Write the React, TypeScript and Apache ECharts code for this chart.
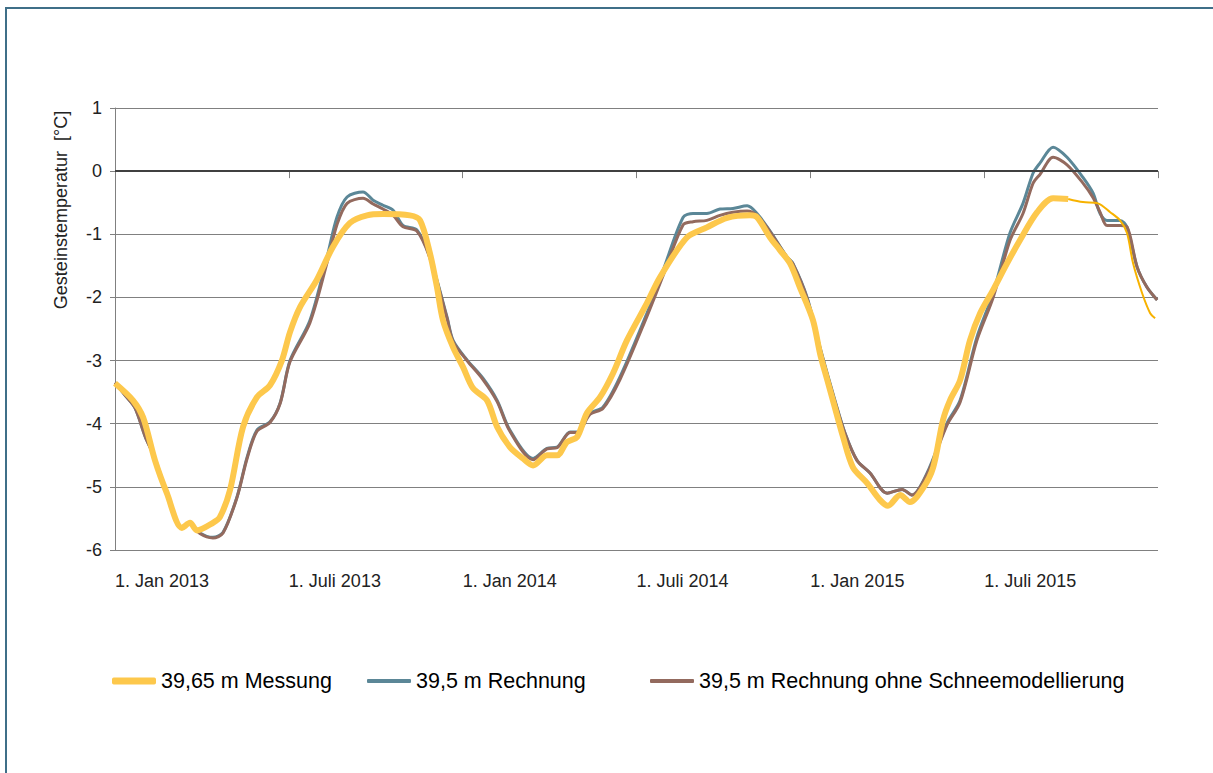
import React, { useEffect, useRef } from "react";
import * as echarts from "echarts";

// x = months since 1. Jan 2013
const tickLabels = ["1. Jan 2013", "1. Juli 2013", "1. Jan 2014", "1. Juli 2014", "1. Jan 2015", "1. Juli 2015", ""];
const seriesNames = ["39,65 m Messung", "39,5 m Rechnung", "39,5 m Rechnung ohne Schneemodellierung"];

const messung: number[][] = [
  [0, -3.36], [0.62, -3.63], [0.97, -3.9], [1.38, -4.58], [1.79, -5.1], [2.31, -5.65], [2.59, -5.57], [2.83, -5.69],
  [3.38, -5.57], [3.62, -5.48], [3.97, -5.05], [4.42, -4.05], [4.9, -3.58], [5.35, -3.39], [5.76, -3.0], [6.04, -2.55],
  [6.39, -2.15], [6.97, -1.72], [7.52, -1.2], [8.11, -0.82], [8.7, -0.7], [9.25, -0.68], [10.18, -0.7], [10.53, -0.78],
  [10.87, -1.3], [11.11, -1.83], [11.32, -2.36], [11.67, -2.79], [12.01, -3.1], [12.36, -3.44], [12.84, -3.63],
  [13.19, -4.05], [13.63, -4.37], [14.08, -4.55], [14.43, -4.66], [14.91, -4.5], [15.26, -4.5], [15.6, -4.29],
  [15.95, -4.21], [16.29, -3.83], [16.74, -3.58], [17.19, -3.2], [17.67, -2.68], [18.36, -2.09], [18.81, -1.68],
  [19.74, -1.05], [20.43, -0.89], [21.13, -0.74], [21.92, -0.7], [22.16, -0.73], [22.61, -1.05], [22.95, -1.25],
  [23.3, -1.46], [23.64, -1.84], [24.09, -2.36], [24.34, -2.9], [24.58, -3.3], [24.78, -3.63], [25.13, -4.21],
  [25.47, -4.69], [25.96, -4.94], [26.41, -5.21], [26.68, -5.3], [27.1, -5.13], [27.44, -5.24], [27.89, -5.02],
  [28.24, -4.69], [28.58, -3.94], [28.82, -3.63], [29.17, -3.31], [29.51, -2.68], [29.86, -2.25], [30.31, -1.88],
  [30.79, -1.46], [31.24, -1.09], [31.83, -0.65], [32.38, -0.43], [32.9, -0.44],
];

const messungEnde: number[][] = [
  [32.9, -0.44], [33.41, -0.49], [33.93, -0.51], [34.35, -0.65], [34.69, -0.78], [34.93, -0.98], [35.14, -1.46],
  [35.45, -1.93], [35.73, -2.25], [35.9, -2.33],
];

const rechnung: number[][] = [
  [0, -3.35], [0.35, -3.55], [0.69, -3.75], [1.04, -4.2], [1.38, -4.55], [1.79, -5.1], [2.31, -5.65], [2.59, -5.58],
  [2.93, -5.73], [3.38, -5.8], [3.73, -5.72], [4.21, -5.16], [4.56, -4.53], [4.9, -4.1], [5.35, -3.97], [5.7, -3.67],
  [6.04, -3.0], [6.73, -2.36], [7.32, -1.36], [7.66, -0.73], [8.01, -0.41], [8.56, -0.33], [8.91, -0.46], [9.25, -0.54],
  [9.6, -0.62], [9.94, -0.86], [10.42, -0.93], [10.87, -1.36], [11.46, -2.31], [11.67, -2.68], [12.15, -2.99],
  [12.7, -3.28], [13.19, -3.63], [13.63, -4.1], [14.43, -4.55], [14.91, -4.39], [15.26, -4.37], [15.71, -4.13],
  [15.95, -4.13], [16.4, -3.83], [16.84, -3.74], [17.43, -3.26], [18.36, -2.25], [18.92, -1.57], [19.61, -0.73],
  [19.95, -0.67], [20.43, -0.67], [20.88, -0.6], [21.33, -0.59], [21.82, -0.55], [22.16, -0.67], [22.61, -0.95],
  [23.2, -1.36], [23.4, -1.46], [23.89, -2.0], [24.34, -2.8], [24.85, -3.63], [25.2, -4.15], [25.61, -4.58],
  [26.06, -4.78], [26.65, -5.1], [27.17, -5.04], [27.51, -5.13], [28.03, -4.78], [28.72, -3.99], [29.17, -3.63],
  [29.75, -2.63], [30.31, -1.93], [30.89, -0.98], [31.34, -0.51], [31.69, -0.03], [31.93, 0.13], [32.38, 0.38],
  [32.86, 0.22], [33.41, -0.1], [33.76, -0.35], [34.0, -0.67], [34.24, -0.78], [34.69, -0.78], [34.93, -0.89],
  [35.28, -1.52], [35.62, -1.84], [35.97, -2.04],
];

const ohneSchnee: number[][] = [
  [0, -3.35], [0.35, -3.55], [0.69, -3.75], [1.04, -4.2], [1.38, -4.55], [1.79, -5.1], [2.31, -5.65], [2.59, -5.58],
  [2.93, -5.74], [3.38, -5.81], [3.73, -5.73], [4.21, -5.17], [4.56, -4.55], [4.9, -4.12], [5.35, -3.98], [5.7, -3.68],
  [6.04, -3.02], [6.73, -2.4], [7.32, -1.45], [7.66, -0.85], [8.01, -0.51], [8.56, -0.43], [8.91, -0.52], [9.25, -0.6],
  [9.6, -0.7], [9.94, -0.88], [10.42, -0.95], [10.87, -1.38], [11.46, -2.33], [11.67, -2.7], [12.15, -3.0],
  [12.7, -3.3], [13.19, -3.65], [13.63, -4.12], [14.43, -4.57], [14.91, -4.4], [15.26, -4.38], [15.71, -4.14],
  [15.95, -4.14], [16.4, -3.85], [16.84, -3.76], [17.43, -3.3], [18.36, -2.3], [18.92, -1.65], [19.61, -0.85],
  [19.95, -0.8], [20.43, -0.78], [20.88, -0.7], [21.33, -0.65], [21.82, -0.63], [22.16, -0.7], [22.61, -0.96],
  [23.2, -1.37], [23.4, -1.47], [23.89, -2.02], [24.34, -2.82], [24.85, -3.65], [25.2, -4.16], [25.61, -4.58],
  [26.06, -4.78], [26.65, -5.1], [27.17, -5.04], [27.51, -5.13], [28.03, -4.8], [28.72, -4.02], [29.17, -3.66],
  [29.75, -2.68], [30.31, -2.0], [30.89, -1.1], [31.34, -0.67], [31.69, -0.19], [31.93, -0.05], [32.38, 0.22],
  [32.86, 0.1], [33.41, -0.19], [33.76, -0.42], [34.0, -0.65], [34.24, -0.86], [34.69, -0.86], [34.93, -0.88],
  [35.28, -1.52], [35.62, -1.84], [35.97, -2.04],
];

const yellow = "#FDC84C";
const blue = "#5B8797";
const brown = "#936A5E";
const thinYellow = "#F7B200";
const font = "Liberation Sans, Arial, sans-serif";

export default function App() {
  const ref = useRef<HTMLDivElement>(null);
  useEffect(() => {
    document.body.style.margin = "0";
    document.body.style.overflow = "hidden";
    const chart = echarts.init(ref.current!, null, { renderer: "svg" });
    const legendBase = {
      top: 665,
      itemWidth: 44,
      itemGap: 5,
      icon: "roundRect",
      textStyle: { fontSize: 21.5, color: "#000", fontFamily: font },
    };
    chart.setOption({
      animation: false,
      backgroundColor: "#fff",
      grid: { left: 115, right: 55, top: 108, bottom: 223, containLabel: false },
      xAxis: {
        type: "value",
        min: 0,
        max: 36,
        interval: 6,
        axisLine: { show: true, lineStyle: { color: "#808080", width: 1 } },
        axisTick: { show: true, length: 7, lineStyle: { color: "#808080" } },
        splitLine: { show: false },
        axisLabel: {
          margin: 22,
          align: "left",
          fontSize: 18,
          color: "#222",
          fontFamily: font,
          showMaxLabel: true,
          formatter: (v: number) => tickLabels[Math.round(v / 6)] ?? "",
        },
      },
      yAxis: {
        type: "value",
        min: -6,
        max: 1,
        interval: 1,
        axisLine: { show: true, lineStyle: { color: "#808080", width: 1 } },
        axisTick: { show: true, length: 5, lineStyle: { color: "#808080" } },
        splitLine: { show: true, lineStyle: { color: "#808080", width: 1 } },
        axisLabel: { margin: 13, fontSize: 18, color: "#222", fontFamily: font },
      },
      legend: [
        { ...legendBase, left: 107, data: [{ name: seriesNames[0], itemStyle: { color: yellow } }], itemHeight: 7 },
        { ...legendBase, left: 362, data: [{ name: seriesNames[1], itemStyle: { color: blue } }], itemHeight: 4 },
        { ...legendBase, left: 645, data: [{ name: seriesNames[2], itemStyle: { color: brown } }], itemHeight: 4 },
      ],
      graphic: [
        {
          type: "rect",
          silent: true,
          shape: { x: 6, y: 8, width: 1240, height: 800 },
          style: { fill: "none", stroke: "#3F6F88", lineWidth: 2 },
        },
        {
          type: "text",
          x: 61,
          y: 210,
          rotation: Math.PI / 2,
          style: {
            text: "Gesteinstemperatur  [°C]",
            fontSize: 18,
            fontFamily: font,
            fill: "#222",
            align: "center",
            verticalAlign: "middle",
          },
        },
      ],
      series: [
        {
          name: seriesNames[1],
          type: "line",
          data: rechnung,
          symbol: "none",
          smooth: 0.3,
          lineStyle: { color: blue, width: 3 },
          itemStyle: { color: blue },
          markLine: {
            silent: true,
            symbol: "none",
            label: { show: false },
            lineStyle: { color: "#404040", width: 2, type: "solid" },
            data: [{ yAxis: 0 }],
          },
        },
        {
          name: seriesNames[2],
          type: "line",
          data: ohneSchnee,
          symbol: "none",
          smooth: 0.3,
          lineStyle: { color: brown, width: 3 },
          itemStyle: { color: brown },
        },
        {
          name: "Messung Fortsetzung",
          type: "line",
          data: messungEnde,
          symbol: "none",
          smooth: 0.3,
          lineStyle: { color: thinYellow, width: 2 },
          itemStyle: { color: thinYellow },
        },
        {
          name: seriesNames[0],
          type: "line",
          data: messung,
          symbol: "none",
          smooth: 0.3,
          lineStyle: { color: yellow, width: 6 },
          itemStyle: { color: yellow },
        },
      ],
    });
    return () => chart.dispose();
  }, []);
  return <div ref={ref} style={{ width: 1213, height: 773 }} />;
}
